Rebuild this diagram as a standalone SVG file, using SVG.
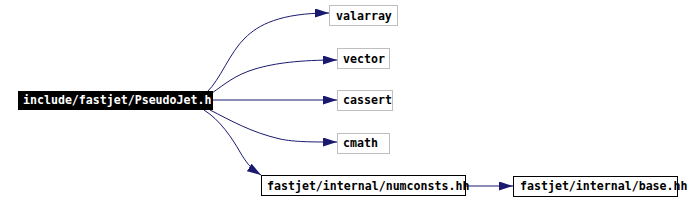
<svg xmlns="http://www.w3.org/2000/svg" width="692" height="201" viewBox="0 0 692 201">
<style>
.n rect{fill:#fff;stroke:#bfbfbf;stroke-width:1}
.n.b rect{stroke:#000}
.n text{font-family:"DejaVu Sans Mono","Liberation Mono",monospace;font-weight:bold;font-size:11.6px;fill:#000}
#root rect{fill:#000;stroke:#000}
#root text{fill:#fff}
.e path{fill:none;stroke:#191970;stroke-width:1;marker-end:url(#ah)}
</style>
<defs>
<marker id="ah" markerUnits="userSpaceOnUse" markerWidth="14" markerHeight="9" refX="14" refY="4.5" orient="auto" viewBox="0 0 14 9">
<path d="M0,0 L14,4.5 L0,9 z" fill="#191970"/>
</marker>
</defs>
<rect width="692" height="201" fill="#fff"/>
<g id="edges" class="e">
<path d="M207,92 C220,80 230,52 245,38 C258,25 280,13 329,13"/>
<path d="M212,93 C225,84 235,75 255,69 C275,63 300,60 337,60"/>
<path d="M212,100 L337,100"/>
<path d="M210,110 C230,120 250,132 280,139 C295,142 310,142 337,142"/>
<path d="M204,110 C220,120 232,138 240,152 C246,162 250,168 261,175"/>
<path d="M465,186 L513,186"/>
</g>
<g id="root" class="n"><rect x="18.5" y="91.5" width="194" height="18"/><text x="23" y="104">include/fastjet/PseudoJet.h</text></g>
<g id="valarray" class="n"><rect x="329.5" y="5.5" width="68" height="20"/><text x="336" y="19.5">valarray</text></g>
<g id="vector" class="n"><rect x="337.5" y="48.5" width="52" height="20"/><text x="343" y="62.5">vector</text></g>
<g id="cassert" class="n"><rect x="337.5" y="90.5" width="55" height="20"/><text x="343" y="104">cassert</text></g>
<g id="cmath" class="n"><rect x="337.5" y="133.5" width="52" height="20"/><text x="343" y="147">cmath</text></g>
<g id="numconsts" class="n b"><rect x="261.5" y="175.5" width="204" height="20"/><text x="267" y="189.5">fastjet/internal/numconsts.hh</text></g>
<g id="base" class="n b"><rect x="513.5" y="176.5" width="164" height="20"/><text x="520" y="190">fastjet/internal/base.hh</text></g>
</svg>
